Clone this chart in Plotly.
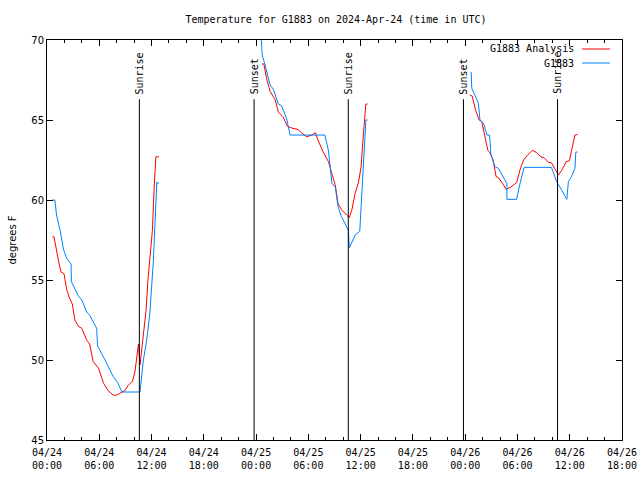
import pandas as pd
import plotly.graph_objects as go

START = pd.Timestamp("2024-04-24 00:00")

# hours since 2024-04-24 00:00 UTC (None = gap in data)
analysis_hours = [0.61, 0.8, 1.3, 1.6, 1.95, 2.26, 2.6, 2.9, 3.2, 3.6, 4.0, 4.55, 4.9, 5.3, 5.9, 6.5, 7.0,
                  7.6, 8.0, 8.6, 8.96, 9.35, 9.8, 10.1, 10.3, 10.5, 10.68, 11.06, 11.37, 11.6, 11.9, 12.1,
                  12.3, 12.5, 12.86, None,
                  24.65, 24.9, 25.2, 25.6, 26.2, 26.55, 27.1, 27.6, 28.1, 28.85, 29.2, 29.8, 30.4, 30.8,
                  31.1, 31.7, 32.3, 32.7, 33.1, 33.4, 33.8, 34.4, 34.7, 35.0, 35.36, 35.75, 36.05, 36.3,
                  36.6, 36.8, None,
                  48.56, 48.8, 49.2, 49.6, 49.9, 50.6, 50.8, 51.2, 51.55, 51.8, 52.3, 52.7, 53.2, 53.9,
                  54.3, 54.7, 55.15, 55.7, 56.2, 56.7, 57.06, 57.55, 57.9, 58.4, 58.7, 59.1, 59.6, 59.96,
                  60.35, 60.6, 60.9]
analysis_temp = [57.7, 57.7, 56.25, 55.5, 55.4, 54.4, 53.85, 53.5, 52.5, 52.1, 51.98, 51.25, 51.0, 49.9, 49.5,
                 48.54, 48.1, 47.8, 47.8, 48.0, 48.1, 48.44, 48.65, 49.27, 50.2, 51.0, 49.7, 51.7, 53.1,
                 55.1, 56.9, 58.1, 60.8, 62.7, 62.7, None,
                 68.5, 68.5, 67.6, 66.8, 66.25, 65.5, 65.2, 64.6, 64.5, 64.4, 64.2, 63.95, 64.06, 64.2,
                 63.75, 63.0, 62.4, 61.56, 60.9, 59.8, 59.4, 59.06, 58.9, 59.4, 60.4, 61.1, 62.06, 64.0,
                 66.0, 66.0, None,
                 66.56, 66.5, 65.6, 65.0, 64.9, 63.1, 63.0, 62.5, 61.46, 61.4, 61.04, 60.67, 60.8, 61.08,
                 61.9, 62.5, 62.8, 63.1, 62.96, 62.7, 62.64, 62.35, 62.33, 61.87, 61.56, 61.87, 62.4, 62.45,
                 63.4, 64.06, 64.1]

obs_hours = [0.61, 0.9, 1.1, 1.5, 1.9, 2.26, 2.76, 2.8, 3.6, 4.0, 4.55, 4.9, 5.7, 5.8, 6.66, 7.6, 8.1, 8.6,
             10.68, 10.8, 11.06, 11.45, 11.8, 12.2, 12.4, 12.6, 12.86, None,
             24.5, 24.7, 25.0, 25.3, 25.6, 26.0, 26.55, 26.9, 27.5, 27.9, 31.9, 32.3, 32.7, 33.1, 33.4,
             33.8, 34.6, 34.7, 35.36, 35.9, 36.05, 36.3, 36.6, 36.8, None,
             48.68, 48.76, 49.1, 49.5, 49.7, 50.1, 50.5, 50.8, 50.94, 51.4, 51.8, 52.4, 52.78, 52.79, 53.9,
             54.3, 54.76, 57.9, 58.5, 59.1, 59.66, 59.85, 60.2, 60.6, 60.7, 60.9]
obs_temp = [60.0, 60.0, 59.06, 58.1, 56.9, 56.35, 56.0, 54.9, 54.0, 53.75, 53.0, 52.8, 51.98, 50.9, 50.0,
            48.96, 48.6, 48.0, 48.0, 48.56, 50.0, 51.25, 52.9, 56.1, 58.6, 61.1, 61.04, None,
            71.0, 69.06, 68.5, 67.9, 67.2, 66.9, 66.0, 65.9, 65.1, 64.06, 64.06, 63.1, 61.04, 60.8, 59.6,
            58.96, 58.1, 57.0, 57.8, 58.06, 59.4, 61.56, 65.0, 65.0, None,
            68.0, 66.98, 66.56, 66.1, 65.0, 64.8, 64.06, 64.06, 62.9, 62.1, 61.98, 61.35, 61.04, 60.04,
            60.04, 61.04, 62.04, 62.04, 61.15, 60.6, 60.04, 61.15, 61.46, 61.98, 63.0, 63.0]

sun_hours = [10.6, 23.77, 34.58, 47.8, 58.6]
sun_labels = ["Sunrise", "Sunset", "Sunrise", "Sunset", "Sunrise"]

series_names = ["G1883 Analysis", "G1883"]
series_colors = ["#ff0000", "#0080ff"]


def to_time(hours):
    return [None if h is None else START + pd.Timedelta(hours=h) for h in hours]


MONO = "DejaVu Sans Mono"
SANS = "DejaVu Sans"

fig = go.Figure()
fig.add_trace(go.Scatter(x=to_time(analysis_hours), y=analysis_temp, mode="lines",
                         name=series_names[0], line=dict(color=series_colors[0], width=1),
                         connectgaps=False, showlegend=False))
fig.add_trace(go.Scatter(x=to_time(obs_hours), y=obs_temp, mode="lines",
                         name=series_names[1], line=dict(color=series_colors[1], width=1),
                         connectgaps=False, showlegend=False))

shapes = []
annotations = []
for h, lab in zip(sun_hours, sun_labels):
    t = START + pd.Timedelta(hours=h)
    shapes.append(dict(type="line", xref="x", yref="y", x0=t, x1=t, y0=45, y1=66.3,
                       line=dict(color="black", width=1)))
    annotations.append(dict(x=t, y=66.55, xref="x", yref="y", text=lab, showarrow=False,
                            textangle=-90, xanchor="center", yanchor="bottom", borderpad=0,
                            font=dict(family=MONO, size=10, color="black")))

# legend (text right-aligned, sample line to its right, as in the original)
for i, (name, col) in enumerate(zip(series_names, series_colors)):
    ypix = 49 + i * 14
    yp = 1 - (ypix - 40) / 400
    annotations.append(dict(x=(575 - 47) / 575, y=yp, xref="paper", yref="paper", text=name,
                            showarrow=False, xanchor="right", yanchor="middle", borderpad=0,
                            font=dict(family=MONO, size=10, color="black")))
    shapes.append(dict(type="line", xref="paper", yref="paper",
                       x0=(582 - 47) / 575, x1=(610 - 47) / 575, y0=yp, y1=yp,
                       line=dict(color=col, width=1)))

fig.update_layout(
    width=640, height=480,
    margin=dict(l=47, r=18, t=40, b=40),
    paper_bgcolor="white", plot_bgcolor="white",
    title=dict(text="Temperature for G1883 on 2024-Apr-24 (time in UTC)", x=0.525, xanchor="center",
               y=1 - 19 / 480, yanchor="middle", font=dict(family=MONO, size=10, color="black")),
    shapes=shapes, annotations=annotations,
    showlegend=False,
)
fig.update_xaxes(
    type="date", range=[START, START + pd.Timedelta(hours=66)],
    tick0=START, dtick=6 * 3600 * 1000, tickformat="%m/%d<br>%H:%M",
    ticks="inside", ticklen=6, tickcolor="black", ticklabelstandoff=3,
    minor=dict(dtick=2 * 3600 * 1000, ticks="inside", ticklen=3, tickcolor="black"),
    showline=True, linecolor="black", linewidth=1, mirror="allticks",
    showgrid=False, zeroline=False, automargin=False,
    tickfont=dict(family=MONO, size=10, color="black"),
)
fig.update_yaxes(
    range=[45, 70], tick0=45, dtick=5,
    ticks="inside", ticklen=6, tickcolor="black",
    showline=True, linecolor="black", linewidth=1, mirror="allticks",
    showgrid=False, zeroline=False, automargin=False,
    tickfont=dict(family=SANS, size=10, color="black"),
    title=dict(text="degrees F", font=dict(family=SANS, size=10, color="black"), standoff=12),
)

fig.write_html("out.html", config={"displayModeBar": False},
               post_script="document.body.style.margin='0';document.body.style.overflow='hidden';")
